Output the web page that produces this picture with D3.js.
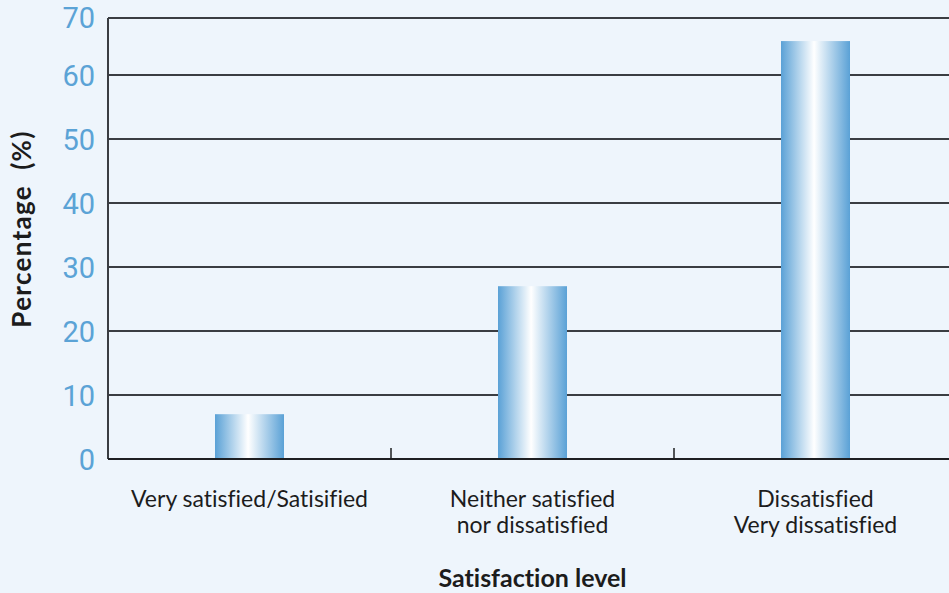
<!DOCTYPE html>
<html>
<head>
<meta charset="utf-8">
<script src="https://cdn.jsdelivr.net/npm/d3@7"></script>
<style>
  body { margin: 0; background: #eef5fc; }
  svg { display: block; font-family: "Lato", "Noto Sans", sans-serif; font-variant-ligatures: none; }
</style>
</head>
<body>
<svg id="chart" width="949" height="593"></svg>
<script>
var categories = [
    ["Very satisfied/Satisified"],
    ["Neither satisfied", "nor dissatisfied"],
    ["Dissatisfied", "Very dissatisfied"]
];
var percentages = [7, 27, 65.3];
var yTicks = [0, 10, 20, 30, 40, 50, 60];
var topLabel = "70";

var svg = d3.select("#chart"),
    margin = {top: 18, left: 108},
    width = 849,
    height = 441;

svg.append("rect")
    .attr("width", 949)
    .attr("height", 593)
    .attr("fill", "#eef5fc");

var defs = svg.append("defs");
var grad = defs.append("linearGradient")
    .attr("id", "barGrad")
    .attr("x1", "0").attr("x2", "1").attr("y1", "0").attr("y2", "0");
grad.append("stop").attr("offset", "0%").attr("stop-color", "#5aa1d6");
grad.append("stop").attr("offset", "48%").attr("stop-color", "#ffffff");
grad.append("stop").attr("offset", "100%").attr("stop-color", "#5aa1d6");

var x = d3.scaleBand()
    .domain(d3.range(categories.length))
    .range([0, width]);

// 10 units = 64px, the frame top sits a little under 70
var y = d3.scaleLinear()
    .domain([0, 60])
    .range([height, height - 384]);

var g = svg.append("g")
    .attr("transform", "translate(" + margin.left + "," + margin.top + ")");

// gridlines
g.selectAll(".grid")
    .data(yTicks)
    .enter().append("line")
    .attr("class", "grid")
    .attr("x1", 0)
    .attr("x2", width)
    .attr("y1", function (d) { return y(d); })
    .attr("y2", function (d) { return y(d); })
    .attr("stroke", "#3a3d42")
    .attr("stroke-width", 2);

// top frame line, labelled 70
g.append("line")
    .attr("x1", 0).attr("x2", width)
    .attr("y1", 0).attr("y2", 0)
    .attr("stroke", "#3a3d42")
    .attr("stroke-width", 2);

// y axis
var yAxis = g.append("g")
    .call(d3.axisLeft(y).tickValues(yTicks).tickSize(0).tickPadding(13));
yAxis.select(".domain").remove();
g.append("line")
    .attr("x1", 0).attr("x2", 0)
    .attr("y1", 0).attr("y2", height)
    .attr("stroke", "#3a3d42")
    .attr("stroke-width", 2);
yAxis.append("text")
    .attr("x", -13)
    .attr("y", 0)
    .text(topLabel);
yAxis.selectAll("text")
    .attr("fill", "#5ba3d6")
    .attr("font-family", "Roboto, sans-serif")
    .attr("font-size", 29)
    .attr("text-anchor", "end")
    .attr("dy", "0.36em");

// bars
var barWidth = 69;
g.selectAll(".bar")
    .data(percentages)
    .enter().append("rect")
    .attr("class", "bar")
    .attr("x", function (d, i) { return x(i) + x.bandwidth() / 2 - barWidth / 2; })
    .attr("y", function (d) { return y(d); })
    .attr("width", barWidth)
    .attr("height", function (d) { return height - y(d); })
    .attr("fill", "url(#barGrad)");

// x axis with inward ticks at band edges
g.append("line")
    .attr("x1", 0).attr("x2", width)
    .attr("y1", height).attr("y2", height)
    .attr("stroke", "#1e1f22")
    .attr("stroke-width", 2);

g.selectAll(".xtick")
    .data(d3.range(1, categories.length))
    .enter().append("line")
    .attr("class", "xtick")
    .attr("x1", function (d) { return x(d); })
    .attr("x2", function (d) { return x(d); })
    .attr("y1", height)
    .attr("y2", height - 11)
    .attr("stroke", "#1e1f22")
    .attr("stroke-width", 1.5);

// category labels
var labels = g.selectAll(".cat")
    .data(categories)
    .enter().append("text")
    .attr("class", "cat")
    .attr("text-anchor", "middle")
    .attr("font-size", 23)
    .attr("fill", "#1c1c1c");
labels.selectAll("tspan")
    .data(function (d, i) { return d.map(function (t) { return {t: t, i: i}; }); })
    .enter().append("tspan")
    .attr("x", function (d) { return x(d.i) + x.bandwidth() / 2; })
    .attr("y", function (d, j) { return height + 48 + j * 26; })
    .text(function (d) { return d.t; });

// axis titles
svg.append("text")
    .attr("x", margin.left + x(1) + x.bandwidth() / 2)
    .attr("y", 587)
    .attr("text-anchor", "middle")
    .attr("font-size", 25)
    .attr("font-weight", "bold")
    .attr("fill", "#1c1c1c")
    .text("Satisfaction level");

svg.append("text")
    .attr("transform", "translate(31," + 229 + ") rotate(-90)")
    .attr("text-anchor", "middle")
    .attr("font-size", 26)
    .attr("font-weight", "bold")
    .attr("letter-spacing", 1.3)
    .attr("fill", "#1c1c1c")
    .style("white-space", "pre")
    .text("Percentage  (%)");
</script>
</body>
</html>
